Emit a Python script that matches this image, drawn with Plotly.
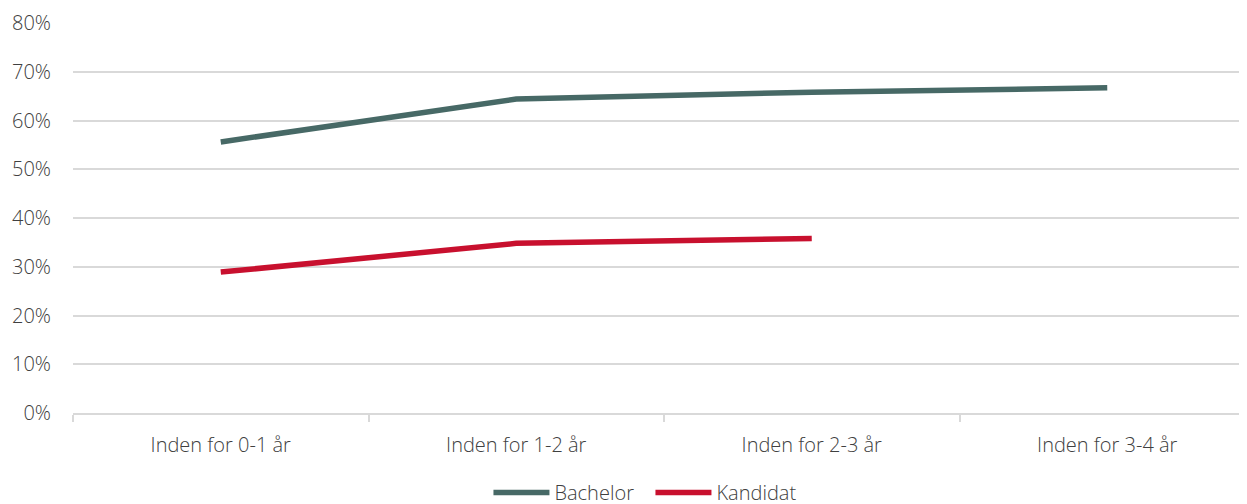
import plotly.graph_objects as go

categories = ["Inden for 0-1 år", "Inden for 1-2 år", "Inden for 2-3 år", "Inden for 3-4 år"]
bachelor = [0.556, 0.644, 0.658, 0.667]
kandidat = [0.289, 0.348, 0.358, None]

font_family = "Open Sans"
text_color = "#404040"

fig = go.Figure()
fig.add_trace(go.Scatter(x=categories, y=bachelor, name="Bachelor", mode="lines",
                         line=dict(color="#476966", width=5.5)))
fig.add_trace(go.Scatter(x=categories, y=kandidat, name="Kandidat", mode="lines",
                         line=dict(color="#C8102E", width=5.5)))

fig.update_layout(
    width=1247, height=504,
    margin=dict(l=65, r=0, t=15, b=99, autoexpand=False),
    plot_bgcolor="white", paper_bgcolor="white",
    font=dict(family=font_family, size=20, color=text_color, weight=300),
    showlegend=True,
    legend=dict(orientation="h", xref="container", x=0.5152, xanchor="center",
                yref="container", y=-0.008, yanchor="bottom",
                font=dict(size=20, color=text_color, weight=300),
                itemwidth=56, entrywidth=91, entrywidthmode="pixels", tracegroupgap=0),
    xaxis=dict(type="category", range=[-0.5, 3.5], showgrid=False, automargin=False,
               showline=True, linecolor="#D9D9D9", linewidth=1.5,
               ticks="outside", tickson="boundaries", ticklen=7, tickcolor="#D9D9D9",
               tickwidth=1.5, ticklabelstandoff=13, tickfont=dict(size=20, color=text_color, weight=300)),
    yaxis=dict(range=[0, 0.8], tickformat=".0%", dtick=0.1, showgrid=True, automargin=False,
               gridcolor="#D9D9D9", gridwidth=1.5, zeroline=False, showline=False,
               ticks="", ticklabelstandoff=21, tickfont=dict(size=20, color=text_color, weight=300)),
)

fig.write_html("out.html")
